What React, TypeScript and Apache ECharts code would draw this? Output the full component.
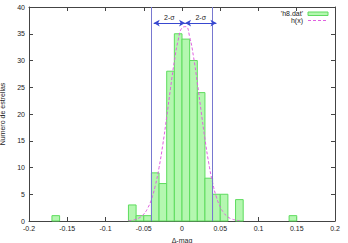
import React, { useEffect, useRef } from "react";
import * as echarts from "echarts";

const binCenters = [-0.165, -0.065, -0.055, -0.045, -0.035, -0.025, -0.015, -0.005, 0.005, 0.015, 0.025, 0.035, 0.045, 0.055, 0.075, 0.145];
const binCounts = [1, 3, 1, 1, 9, 7, 28, 35, 34, 30, 24, 8, 5, 5, 4, 1];
const binWidth = 0.01;

const curveX = [-0.07, -0.065, -0.06, -0.055, -0.05, -0.045, -0.04, -0.035, -0.03, -0.025, -0.02, -0.015, -0.01, -0.005, 0, 0.005, 0.01, 0.015, 0.02, 0.025, 0.03, 0.035, 0.04, 0.045, 0.05, 0.055, 0.06, 0.065, 0.07, 0.075];
const curveY = [0.06, 0.15, 0.33, 0.67, 1.29, 2.35, 4.04, 6.55, 9.99, 14.36, 19.45, 24.82, 29.85, 33.82, 36.1, 36.33, 34.43, 30.75, 25.88, 20.52, 15.33, 10.79, 7.16, 4.47, 2.64, 1.46, 0.76, 0.38, 0.18, 0.08];

const sigmaLeft = -0.037;
const sigmaCenter = 0.004;
const sigmaRight = 0.045;
const arrowY = 37;

const FONT = "Liberation Sans";

export default function App() {
  const ref = useRef<HTMLDivElement>(null);
  useEffect(() => {
    const chart = echarts.init(ref.current!, null, { renderer: "svg" });
    const axisCommon = {
      axisLine: { show: true, onZero: false, lineStyle: { color: "#444", width: 1 } },
      axisTick: { show: true, inside: true, length: 4, lineStyle: { color: "#444" } },
      splitLine: { show: false },
    };
    chart.setOption({
      animation: false,
      backgroundColor: "#fff",
      grid: { left: 29, right: 13, top: 7, bottom: 22, containLabel: false, outerBoundsMode: "none" },
      xAxis: [
        {
          type: "value", min: -0.2, max: 0.2, interval: 0.05,
          ...axisCommon,
          axisLabel: { fontSize: 7, fontFamily: FONT, color: "#222", margin: 4, formatter: (v: number) => String(Math.round(v * 100) / 100) },
          name: "Δ-mag", nameLocation: "middle", nameGap: 13,
          nameTextStyle: { fontSize: 7, fontFamily: FONT, color: "#222" },
        },
        { type: "value", position: "top", min: -0.2, max: 0.2, interval: 0.05, ...axisCommon, axisLabel: { show: false } },
      ],
      yAxis: [
        {
          type: "value", min: 0, max: 40, interval: 5,
          ...axisCommon,
          axisLabel: { fontSize: 7, fontFamily: FONT, color: "#222", margin: 4 },
          name: "Numero de estrellas", nameLocation: "middle", nameGap: 19,
          nameTextStyle: { fontSize: 7, fontFamily: FONT, color: "#222" },
        },
        { type: "value", position: "right", min: 0, max: 40, interval: 5, ...axisCommon, axisLabel: { show: false } },
      ],
      series: [
        {
          type: "custom",
          name: "'h8.dat'",
          data: binCenters.map((c, i) => [c, binCounts[i]]),
          renderItem: (params: any, api: any) => {
            const c = api.value(0);
            const v = api.value(1);
            const p0 = api.coord([c - binWidth / 2, v]);
            const p1 = api.coord([c + binWidth / 2, 0]);
            return {
              type: "rect",
              shape: { x: p0[0], y: p0[1], width: p1[0] - p0[0], height: p1[1] - p0[1] },
              style: { fill: "#b4f7b0", stroke: "#5edc5e", lineWidth: 1 },
            };
          },
          z: 2,
        },
        {
          type: "line",
          name: "h(x)",
          data: curveX.map((x, i) => [x, curveY[i]]),
          smooth: true,
          showSymbol: false,
          lineStyle: { color: "#e060e0", width: 1, type: [3, 2] },
          z: 4,
          markLine: {
            silent: true,
            animation: false,
            symbol: ["none", "none"],
            label: { show: false },
            lineStyle: { color: "#7878d0", width: 1, type: "solid" },
            data: [{ xAxis: sigmaLeft }, { xAxis: sigmaRight }],
          },
        },
        {
          type: "line",
          name: "sigma",
          data: [],
          markLine: {
            silent: true,
            animation: false,
            symbol: ["arrow", "arrow"],
            symbolSize: [5, 6],
            lineStyle: { color: "#3848d0", width: 1, type: "solid" },
            label: { show: true, formatter: "2-σ", position: "insideMiddleTop", distance: 2, fontSize: 7, fontFamily: FONT, color: "#222" },
            data: [
              [{ coord: [sigmaLeft, arrowY] }, { coord: [sigmaCenter, arrowY] }],
              [{ coord: [sigmaCenter, arrowY] }, { coord: [sigmaRight, arrowY] }],
            ],
          },
          z: 5,
        },
      ],
      graphic: [
        { type: "text", x: 303, y: 10, style: { text: "'h8.dat'", font: `7px ${FONT}`, fill: "#222222", align: "right" } },
        { type: "rect", shape: { x: 308, y: 12, width: 20, height: 3.5 }, style: { fill: "#b4f7b0", stroke: "#5edc5e", lineWidth: 1 } },
        { type: "text", x: 303, y: 17, style: { text: "h(x)", font: `7px ${FONT}`, fill: "#222222", align: "right" } },
        { type: "line", shape: { x1: 308, y1: 20.5, x2: 328, y2: 20.5 }, style: { stroke: "#e060e0", lineWidth: 1, lineDash: [3, 2] } },
      ],
    });
    return () => chart.dispose();
  }, []);
  return <div ref={ref} style={{ position: "fixed", left: 0, top: 0, width: 348, height: 243 }} />;
}
